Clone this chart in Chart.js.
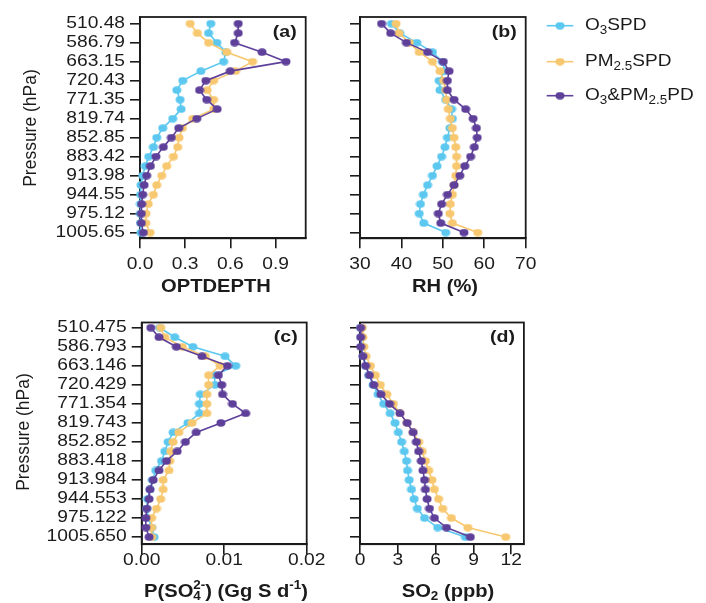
<!DOCTYPE html>
<html>
<head>
<meta charset="utf-8">
<title>Vertical profiles</title>
<script src="https://cdn.jsdelivr.net/npm/chart.js@4.4.1/dist/chart.umd.min.js"></script>
<style>
  html, body { margin: 0; padding: 0; background: #fff; }
  #wrap { position: relative; width: 706px; height: 603px; overflow: hidden; background: #fff; }
  #wrap canvas { position: absolute; }
</style>
</head>
<body>
<div id="wrap">
  <canvas id="cA" width="330" height="300" style="left:0;top:0"></canvas>
  <canvas id="cB" width="376" height="300" style="left:330px;top:0"></canvas>
  <canvas id="cC" width="330" height="303" style="left:0;top:300px"></canvas>
  <canvas id="cD" width="200" height="303" style="left:330px;top:300px"></canvas>
</div>
<script>
// Pressure levels (hPa), labelled on every second model level, top to bottom
const pressureTicksTop = ['510.48', '586.79', '663.15', '720.43', '771.35', '819.74',
  '852.85', '883.42', '913.98', '944.55', '975.12', '1005.65'];
const pressureTicksBottom = ['510.475', '586.793', '663.146', '720.429', '771.354', '819.743',
  '852.852', '883.418', '913.984', '944.553', '975.122', '1005.650'];

// Series
const seriesNames = ['O3SPD', 'PM2.5SPD', 'O3&PM2.5PD'];
const seriesColors = ['#5cc8f0', '#f8c870', '#5e409a'];

// (a) optical depth, 23 levels from 510 hPa down to the surface
const optO3   = [0.47, 0.455, 0.51, 0.57, 0.555, 0.404, 0.284, 0.244, 0.266, 0.273, 0.217, 0.151,
  0.111, 0.089, 0.058, 0.035, 0.018, 0.006, 0.004, 0.003, 0.003, 0.004, 0.006];
const optPM   = [0.333, 0.381, 0.455, 0.576, 0.747, 0.634, 0.488, 0.446, 0.488, 0.49, 0.35, 0.282,
  0.259, 0.25, 0.222, 0.177, 0.144, 0.111, 0.089, 0.055, 0.04, 0.038, 0.067];
const optBoth = [0.652, 0.652, 0.628, 0.81, 0.969, 0.599, 0.437, 0.395, 0.443, 0.512, 0.377, 0.257,
  0.208, 0.155, 0.106, 0.069, 0.044, 0.027, 0.018, 0.011, 0.009, 0.009, 0.022];

// (b) relative humidity (%)
const rhO3   = [37.6, 39.6, 43.7, 47.5, 49.9, 50.5, 49.1, 49.3, 50.7, 52.1, 52.3, 51.7,
  51.1, 50.5, 49.7, 48.6, 47.5, 46.3, 45.3, 44.6, 44.3, 45.4, 50.7];
const rhPM   = [38.7, 39.4, 41.9, 44.3, 47.5, 49.3, 50.2, 50.7, 50.9, 51.3, 51.8, 52.3,
  52.7, 53.1, 53.3, 53.3, 53.1, 52.7, 52.3, 51.8, 51.7, 52.3, 58.4];
const rhBoth = [35.2, 37.4, 41.2, 46.3, 50.1, 51.5, 51.1, 51.1, 52.7, 55.5, 57.3, 58.1,
  58.3, 57.6, 56.7, 55.3, 54.1, 52.7, 51.1, 49.7, 48.9, 49.5, 55.1];

// (c) sulfate production rate (Gg S per day)
const so4O3   = [0.0022, 0.004, 0.0062, 0.0101, 0.0114, 0.0088, 0.0089, 0.0071, 0.007, 0.007, 0.0056, 0.0038,
  0.0032, 0.0028, 0.0024, 0.0017, 0.0013, 0.001, 0.0007, 0.0006, 0.0008, 0.0012, 0.0015];
const so4PM   = [0.0023, 0.0028, 0.0049, 0.0077, 0.0095, 0.0081, 0.0081, 0.0079, 0.0079, 0.0079, 0.0061, 0.0045,
  0.0038, 0.0035, 0.0034, 0.0033, 0.0026, 0.0026, 0.0023, 0.0018, 0.0012, 0.0012, 0.0012];
const so4Both = [0.0011, 0.0021, 0.0042, 0.0073, 0.0104, 0.0093, 0.0097, 0.0098, 0.011, 0.0126, 0.0096, 0.0066,
  0.0053, 0.0043, 0.003, 0.0021, 0.0014, 0.001, 0.0009, 0.0006, 0.0005, 0.0005, 0.0009];

// (d) SO2 (ppb)
const so2O3   = [0.05, 0.1, 0.13, 0.26, 0.49, 0.7, 1.04, 1.43, 1.87, 2.39, 2.78, 3.04,
  3.3, 3.51, 3.69, 3.77, 3.9, 4.08, 4.29, 4.55, 5.12, 6.16, 8.36];
const so2PM   = [0.18, 0.23, 0.31, 0.49, 0.83, 1.22, 1.61, 2.13, 2.65, 3.17, 3.74, 4.21,
  4.65, 4.94, 5.19, 5.45, 5.71, 5.9, 6.23, 6.55, 7.25, 8.55, 11.56];
const so2Both = [0.05, 0.05, 0.05, 0.23, 0.44, 0.75, 1.09, 1.66, 2.34, 3.17, 3.74, 4.21,
  4.47, 4.65, 4.86, 4.99, 5.12, 5.19, 5.32, 5.51, 5.9, 6.86, 8.75];

// x-axis tick values
const optTicks = [0, 0.3, 0.6, 0.9];
const rhTicks  = [30, 40, 50, 60, 70];
const so4Ticks = [0, 0.01, 0.02];
const so2Ticks = [0, 3, 6, 9, 12];

const FONT = '"Liberation Sans", Arial, Helvetica, sans-serif';
const INK = '#1b1b1b';

// Slightly wide elliptical marker
function dot(color) {
  const c = document.createElement('canvas');
  c.width = 10; c.height = 8;
  const g = c.getContext('2d');
  g.fillStyle = color;
  g.beginPath();
  g.ellipse(5, 4, 4.5, 3.7, 0, 0, Math.PI * 2);
  g.fill();
  return c;
}

// Rich text: runs of differing size / offset (sub- and superscripts)
function segFont(s) { return (s.bold ? 'bold ' : '') + s.size + 'px ' + FONT; }
function layoutSegs(ctx, segs) {
  let x = 0, prevStart = 0, prevW = 0;
  const items = [];
  for (const s of segs) {
    ctx.font = segFont(s);
    const w = ctx.measureText(s.t).width;
    let start;
    if (s.stack) { start = prevStart; x = Math.max(prevStart + prevW, start + w); }
    else { start = x; x = start + w; }
    items.push(Object.assign({}, s, { x: start, w: w }));
    prevStart = start; prevW = w;
  }
  return { items: items, width: x };
}
function drawRich(ctx, segs, x, y, align, sx) {
  const L = layoutSegs(ctx, segs);
  const total = L.width * sx;
  const x0 = align === 'center' ? x - total / 2 : (align === 'right' ? x - total : x);
  ctx.save();
  ctx.translate(x0, y);
  ctx.scale(sx, 1);
  ctx.textBaseline = 'middle';
  ctx.textAlign = 'left';
  ctx.fillStyle = INK;
  for (const it of L.items) {
    ctx.font = segFont(it);
    ctx.fillText(it.t, it.x, it.dy || 0);
  }
  ctx.restore();
}

const legendSegs = [
  [{ t: 'O', size: 17 }, { t: '3', size: 12, dy: 5 }, { t: 'SPD', size: 17 }],
  [{ t: 'PM', size: 17 }, { t: '2.5', size: 12, dy: 5 }, { t: 'SPD', size: 17 }],
  [{ t: 'O', size: 17 }, { t: '3', size: 12, dy: 5 }, { t: '&PM', size: 17 },
   { t: '2.5', size: 12, dy: 5 }, { t: 'PD', size: 17 }]
];

// Frame, tick labels, titles, panel letters and legend
const panelText = {
  id: 'panelText',
  beforeDatasetsDraw(chart) {
    const a = chart.chartArea, ctx = chart.ctx;
    ctx.save();
    ctx.strokeStyle = INK;
    ctx.lineWidth = 1.8;
    ctx.strokeRect(a.left, a.top, a.right - a.left, a.bottom - a.top);
    ctx.restore();
  },
  afterDraw(chart, args, o) {
    const a = chart.chartArea, ctx = chart.ctx;
    const xs = chart.scales.x, ys = chart.scales.y;
    if (o.yLabels) {
      ys.ticks.forEach(t => {
        const lab = o.yLabels[Math.round(t.value / 2)];
        drawRich(ctx, [{ t: lab, size: 16 }], a.left - 15, ys.getPixelForValue(t.value), 'right', 1.2);
      });
    }
    xs.ticks.forEach(t => {
      drawRich(ctx, [{ t: o.xFormat(t.value), size: 16 }], xs.getPixelForValue(t.value), o.tickY, 'center', 1.2);
    });
    drawRich(ctx, o.title, o.titleX, o.titleY, 'center', 1.12);
    drawRich(ctx, [{ t: o.letter, size: 17, bold: true }], a.right - 9, a.top + 15, 'right', 1.15);
    if (o.yTitle) {
      ctx.save();
      ctx.translate(o.yTitle.x, o.yTitle.y);
      ctx.rotate(-Math.PI / 2);
      drawRich(ctx, [{ t: 'Pressure (hPa)', size: 17.5 }], 0, 0, 'center', 1);
      ctx.restore();
    }
    if (o.legend) {
      const L = o.legend;
      seriesColors.forEach((c, k) => {
        const y = L.rows[k];
        ctx.save();
        ctx.strokeStyle = c;
        ctx.lineWidth = 1.6;
        ctx.beginPath();
        ctx.moveTo(L.x0, y); ctx.lineTo(L.x1, y);
        ctx.stroke();
        const m = dot(c);
        ctx.drawImage(m, (L.x0 + L.x1) / 2 - m.width / 2, y - m.height / 2);
        ctx.restore();
        drawRich(ctx, legendSegs[k], L.tx, y, 'left', 1.12);
      });
    }
  }
};

function makePanel(id, p) {
  const cv = document.getElementById(id);
  const W = cv.width, H = cv.height, A = p.area;
  const orders = [3, 2, 1];
  return new Chart(cv, {
    type: 'line',
    data: {
      datasets: seriesNames.map((name, k) => ({
        label: name,
        data: p.values[k].map((v, i) => ({ x: v, y: i })),
        borderColor: seriesColors[k],
        backgroundColor: seriesColors[k],
        pointStyle: dot(seriesColors[k]),
        pointRadius: 4.5,
        borderWidth: 1.6,
        tension: 0,
        clip: false,
        order: orders[k]
      }))
    },
    options: {
      responsive: false,
      animation: false,
      devicePixelRatio: 1,
      events: [],
      indexAxis: 'y',
      layout: { padding: { left: 0, top: A.t, right: W - A.r, bottom: 0 } },
      plugins: {
        legend: { display: false },
        tooltip: { enabled: false },
        panelText: p.text
      },
      scales: {
        x: {
          type: 'linear', position: 'bottom', min: p.xMin, max: p.xMax,
          afterBuildTicks: s => { s.ticks = p.xTicks.map(v => ({ value: v })); },
          afterFit: s => { s.height = H - A.b; },
          ticks: { display: false },
          grid: { drawOnChartArea: false, drawTicks: true, tickLength: 10, color: INK, lineWidth: 1.6 },
          border: { display: true, color: INK, width: 1.8 }
        },
        y: {
          type: 'linear', position: 'left', reverse: true, min: p.yMin, max: p.yMax,
          afterBuildTicks: s => { s.ticks = pressureTicksTop.map((_, k) => ({ value: 2 * k })); },
          afterFit: s => { s.width = A.l; },
          ticks: { display: false },
          grid: { drawOnChartArea: false, drawTicks: true, tickLength: 10, color: INK, lineWidth: 1.6 },
          border: { display: true, color: INK, width: 1.8 }
        }
      }
    },
    plugins: [panelText]
  });
}

const B = true;
makePanel('cA', {
  values: [optO3, optPM, optBoth], xMin: 0, xMax: 1.1, xTicks: optTicks,
  yMin: -0.7, yMax: 22.6,
  area: { l: 140, t: 17, r: 305.7, b: 238.3 },
  text: {
    yLabels: pressureTicksTop, xFormat: v => v.toFixed(1), tickY: 264.5,
    title: [{ t: 'OPTDEPTH', size: 18, bold: B }], titleX: 216, titleY: 287,
    letter: '(a)', yTitle: { x: 31, y: 128 }
  }
});
makePanel('cB', {
  values: [rhO3, rhPM, rhBoth], xMin: 30, xMax: 70, xTicks: rhTicks,
  yMin: -0.7, yMax: 22.6,
  area: { l: 30, t: 17, r: 195.7, b: 238.3 },
  text: {
    yLabels: null, xFormat: v => String(v), tickY: 264.5,
    title: [{ t: 'RH (%)', size: 18, bold: B }], titleX: 115, titleY: 287,
    letter: '(b)',
    legend: { x0: 216.7, x1: 243.3, tx: 255, rows: [25.7, 61.7, 95.7] }
  }
});
makePanel('cC', {
  values: [so4O3, so4PM, so4Both], xMin: 0, xMax: 0.02, xTicks: so4Ticks,
  yMin: -0.55, yMax: 22.75,
  area: { l: 141.7, t: 22.5, r: 306.7, b: 244.2 },
  text: {
    yLabels: pressureTicksBottom, xFormat: v => v.toFixed(2), tickY: 261,
    title: [{ t: 'P(SO', size: 18, bold: B }, { t: '4', size: 12, bold: B, dy: 5 },
            { t: '2-', size: 12, bold: B, dy: -6, stack: true },
            { t: ') (Gg S d', size: 18, bold: B }, { t: '-1', size: 12, bold: B, dy: -6 },
            { t: ')', size: 18, bold: B }],
    titleX: 226, titleY: 292,
    letter: '(c)', yTitle: { x: 24, y: 132 }
  }
});
makePanel('cD', {
  values: [so2O3, so2PM, so2Both], xMin: 0, xMax: 13, xTicks: so2Ticks,
  yMin: -0.55, yMax: 22.75,
  area: { l: 30, t: 22.5, r: 197.3, b: 244.2 },
  text: {
    yLabels: null, xFormat: v => String(v), tickY: 261,
    title: [{ t: 'SO', size: 18, bold: B }, { t: '2', size: 12, bold: B, dy: 5 },
            { t: ' (ppb)', size: 18, bold: B }],
    titleX: 118, titleY: 292,
    letter: '(d)'
  }
});
</script>
</body>
</html>
